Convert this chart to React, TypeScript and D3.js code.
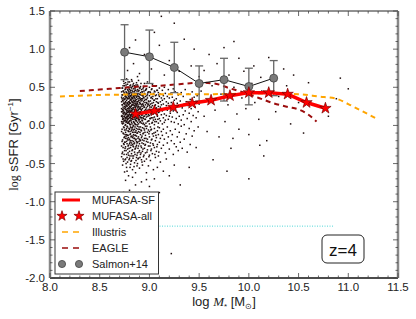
import React from 'react';
import * as d3 from 'd3';

// ---------------- data ----------------
const xTickValues = [8.0, 8.5, 9.0, 9.5, 10.0, 10.5, 11.0, 11.5];
const yTickValues = [-2.0, -1.5, -1.0, -0.5, 0.0, 0.5, 1.0, 1.5];

const mufasaSFMass = [8.86, 9.05, 9.24, 9.43, 9.62, 9.81, 10.0, 10.2, 10.39, 10.58, 10.77];
const mufasaSFssfr = [0.15, 0.19, 0.24, 0.29, 0.33, 0.39, 0.43, 0.43, 0.41, 0.30, 0.225];
const mufasaAllMass = [8.86, 9.05, 9.24, 9.43, 9.62, 9.81, 10.0, 10.2, 10.39, 10.58, 10.77];
const mufasaAllssfr = [0.15, 0.19, 0.24, 0.29, 0.33, 0.39, 0.43, 0.43, 0.41, 0.30, 0.225];

const illustrisMass = [8.1, 8.3, 8.5, 8.8, 9.0, 9.3, 9.6, 9.9, 10.2, 10.5, 10.7, 10.88, 11.0, 11.12, 11.29];
const illustrisssfr = [0.38, 0.39, 0.40, 0.405, 0.41, 0.41, 0.41, 0.415, 0.42, 0.41, 0.38, 0.35, 0.28, 0.2, 0.085];

const eagleMass = [8.3, 8.5, 8.7, 8.9, 9.1, 9.3, 9.5, 9.65, 9.8, 9.95, 10.1, 10.25, 10.4, 10.5, 10.6, 10.68];
const eaglessfr = [0.45, 0.47, 0.49, 0.51, 0.52, 0.54, 0.56, 0.55, 0.49, 0.43, 0.36, 0.29, 0.24, 0.21, 0.14, 0.05];

const salmonMass = [8.75, 9.0, 9.25, 9.5, 9.75, 10.0, 10.25];
const salmonssfr = [0.96, 0.90, 0.76, 0.55, 0.60, 0.51, 0.62];
const salmonErr = [0.36, 0.35, 0.33, 0.23, 0.28, 0.24, 0.23];

const limitMass = [8.8, 10.85];
const limitssfr = [-1.32, -1.32];

// galaxy cloud: columns of [log M*, list of log sSFR]
const cloudColumns: [number, number[]][] = [
  [8.72, [0.31, -0.08, 0.12, 0.44, -0.27, 0.05, 0.22, -0.41, 0.37, 0.18]],
  [8.725, [0.18, -0.21, 0.40, 0.03, 0.27, -0.37, 0.13, 0.49, -0.05, 0.35]],
  [8.73, [0.02, 0.27, -0.19, 0.49, 0.11, -0.35, 0.33, 0.08, -0.52, 0.21, 0.40]],
  [8.735, [0.24, -0.10, 0.45, 0.09, -0.29, 0.32, 0.16, -0.44, 0.05, 0.52, 0.20]],
  [8.74, [0.15, -0.02, 0.36, -0.24, 0.58, 0.09, 0.29, -0.11, 0.45, -0.47, 0.19, 0.03]],
  [8.745, [0.07, 0.34, -0.16, 0.22, -0.38, 0.43, 0.12, -0.03, 0.29, 0.55, -0.25, 0.17]],
  [8.75, [0.25, -0.15, 0.41, 0.06, -0.33, 0.17, 0.52, -0.06, 0.34, -0.61, 0.12, 0.28, -0.22]],
  [8.755, [0.30, 0.00, -0.22, 0.38, 0.10, -0.45, 0.23, 0.47, -0.12, 0.15, 0.35, -0.30, 0.06]],
  [8.76, [0.07, 0.39, -0.28, 0.21, 0.48, -0.09, 0.14, 0.31, -0.44, 0.01, 0.56, 0.24, -0.17, 0.10]],
  [8.765, [0.16, -0.33, 0.28, 0.04, 0.44, -0.14, 0.21, -0.50, 0.37, 0.09, -0.06, 0.53, 0.26]],
  [8.77, [0.33, -0.04, 0.19, -0.38, 0.43, 0.11, 0.26, -0.21, 0.05, 0.61, -0.12, 0.37, 0.16, -0.55]],
  [8.775, [0.11, 0.36, -0.24, 0.19, 0.50, -0.01, 0.30, -0.42, 0.14, 0.41, -0.17, 0.06, 0.25, -0.60]],
  [8.78, [0.22, 0.47, -0.13, 0.08, 0.35, -0.31, 0.17, 0.54, -0.02, 0.29, -0.48, 0.12, 0.40, -0.19, 0.03]],
  [8.785, [0.27, -0.07, 0.42, 0.12, -0.27, 0.35, 0.03, 0.57, -0.36, 0.20, 0.46, -0.13, 0.09]],
  [8.79, [0.13, -0.26, 0.38, 0.04, 0.23, -0.08, 0.50, 0.18, -0.39, 0.31, 0.09, -0.16, 0.44, 0.27, -0.66]],
  [8.795, [0.05, 0.31, -0.19, 0.22, -0.45, 0.40, 0.14, -0.04, 0.49, 0.28, -0.30, 0.17, 0.36]],
  [8.80, [0.30, 0.06, -0.18, 0.42, 0.15, -0.34, 0.25, 0.57, -0.05, 0.20, 0.36, -0.43, 0.10, -0.24, 0.47, 0.02]],
  [8.805, [0.23, -0.12, 0.38, 0.01, -0.40, 0.29, 0.11, 0.52, -0.22, 0.18, 0.44, -0.08, 0.33, -0.55]],
  [8.81, [0.18, -0.11, 0.34, 0.07, 0.46, -0.29, 0.24, -0.02, 0.39, 0.13, -0.51, 0.29, 0.01, -0.20, 0.53, 0.11]],
  [8.815, [0.14, 0.43, -0.26, 0.06, 0.34, -0.15, 0.25, -0.47, 0.50, 0.09, -0.03, 0.20, 0.39]],
  [8.82, [0.09, 0.41, -0.23, 0.19, 0.32, -0.07, 0.49, -0.37, 0.14, 0.26, -0.14, 0.04, 0.60, -0.46, 0.22, 0.36]],
  [8.825, [0.31, -0.05, 0.19, -0.33, 0.46, 0.02, 0.27, -0.20, 0.12, 0.58, -0.40, 0.37]],
  [8.83, [0.27, -0.03, 0.15, 0.44, -0.32, 0.08, 0.35, -0.16, 0.21, 0.51, -0.09, 0.12, -0.58, 0.30, 0.40, -0.25]],
  [8.835, [0.08, 0.36, -0.14, 0.23, -0.43, 0.41, 0.16, -0.01, 0.30, -0.27, 0.53, 0.11]],
  [8.84, [0.05, 0.33, -0.21, 0.17, 0.48, -0.12, 0.28, 0.00, -0.40, 0.38, 0.11, -0.28, 0.23, 0.55, -0.06, 0.16]],
  [8.845, [0.26, -0.24, 0.13, 0.44, -0.09, 0.32, 0.04, -0.54, 0.21, 0.39, -0.17, 0.14]],
  [8.85, [0.20, -0.17, 0.37, 0.10, -0.35, 0.26, 0.45, -0.05, 0.14, -0.49, 0.31, 0.03, 0.52, -0.23, 0.18, 0.40]],
  [8.855, [0.02, 0.29, -0.31, 0.17, 0.48, -0.13, 0.35, 0.08, -0.38, 0.24, 0.42, -0.02]],
  [8.86, [0.12, 0.39, -0.09, 0.24, -0.30, 0.46, 0.07, 0.33, -0.19, 0.17, -0.62, 0.28, 0.01, 0.50, -0.13]],
  [8.865, [0.21, -0.18, 0.40, 0.06, -0.28, 0.31, 0.15, -0.46, 0.53, 0.10, -0.07, 0.26]],
  [8.87, [0.34, -0.14, 0.09, 0.42, -0.26, 0.19, 0.56, -0.04, 0.27, -0.42, 0.13, 0.37, -0.21, 0.06]],
  [8.875, [0.13, 0.38, -0.10, 0.25, -0.39, 0.45, 0.01, 0.29, -0.23, 0.19, -0.53]],
  [8.88, [0.16, -0.22, 0.31, 0.04, 0.47, -0.10, 0.23, -0.36, 0.40, 0.11, -0.01, 0.53, -0.50, 0.29]],
  [8.885, [0.35, -0.05, 0.20, -0.30, 0.09, 0.42, -0.17, 0.27, 0.51, -0.44, 0.14]],
  [8.89, [0.25, 0.02, -0.27, 0.38, 0.14, -0.08, 0.45, -0.43, 0.21, 0.32, -0.15, 0.08, 0.59]],
  [8.895, [0.06, 0.33, -0.21, 0.17, 0.46, -0.35, 0.24, -0.02, 0.38, 0.11]],
  [8.90, [0.08, 0.36, -0.18, 0.22, -0.33, 0.49, 0.13, -0.05, 0.30, -0.56, 0.17, 0.41, -0.24]],
  [8.905, [0.28, -0.09, 0.15, -0.42, 0.36, 0.04, 0.49, -0.19, 0.22]],
  [8.91, [0.29, -0.12, 0.18, 0.43, -0.38, 0.05, 0.34, -0.20, 0.11, 0.51, -0.02, 0.24]],
  [8.915, [0.10, 0.40, -0.27, 0.21, -0.06, 0.32, 0.55, -0.36, 0.16]],
  [8.92, [0.14, 0.40, -0.07, 0.27, -0.29, 0.03, 0.47, -0.45, 0.20, 0.35, -0.16, 0.10]],
  [8.925, [0.33, -0.14, 0.07, 0.44, -0.23, 0.25, 0.13, -0.48]],
  [8.93, [0.22, -0.19, 0.35, 0.06, -0.34, 0.44, 0.15, -0.03, 0.28, -0.52, 0.39]],
  [8.935, [0.17, -0.31, 0.39, 0.02, 0.28, -0.11, 0.48, 0.10]],
  [8.94, [0.03, 0.31, -0.24, 0.17, 0.50, -0.10, 0.26, -0.41, 0.37, 0.09]],
  [8.945, [0.24, -0.04, 0.36, -0.20, 0.12, 0.45, -0.39]],
  [8.95, [0.19, -0.06, 0.42, -0.30, 0.12, 0.33, -0.17, 0.24, 0.55, -0.47, 0.01]],
  [8.955, [0.08, 0.30, -0.26, 0.19, -0.09, 0.41]],
  [8.96, [0.27, -0.13, 0.08, 0.38, -0.36, 0.16, 0.46, -0.01, -0.25, 0.21]],
  [8.965, [0.34, -0.17, 0.14, 0.03, 0.47]],
  [8.97, [0.11, 0.34, -0.21, 0.23, -0.04, 0.48, -0.44, 0.15, 0.30]],
  [8.975, [0.20, -0.35, 0.29, -0.01, 0.39]],
  [8.98, [0.36, -0.09, 0.19, -0.32, 0.05, 0.41, 0.25, -0.18, 0.57]],
  [8.985, [0.12, -0.22, 0.43, 0.27]],
  [8.99, [0.06, 0.28, -0.27, 0.14, 0.44, -0.06, 0.32, -0.53, 0.20]],
  [8.995, [0.31, -0.11, 0.06, -0.41, 0.18]],
  [9.00, [0.21, -0.15, 0.39, 0.02, -0.39, 0.26, 0.50, -0.08, 0.13]],
  [9.005, [0.24, 0.44, -0.27, 0.09]],
  [9.01, [0.32, -0.02, 0.17, -0.23, 0.43, 0.09, -0.46, 0.28]],
  [9.015, [0.15, -0.06, 0.36, -0.33]],
  [9.02, [0.10, 0.37, -0.19, 0.24, -0.05, 0.47, 0.16, -0.31]],
  [9.025, [0.29, 0.03, -0.18, 0.48]],
  [9.03, [0.26, -0.11, 0.04, 0.35, -0.37, 0.19, 0.54]],
  [9.035, [0.10, 0.38, -0.24]],
  [9.04, [0.15, 0.42, -0.26, 0.07, 0.30, -0.14, 0.22, -0.58]],
  [9.045, [0.33, -0.10, 0.21]],
  [9.05, [0.33, -0.04, 0.18, -0.29, 0.45, 0.11, 0.01]],
  [9.055, [0.05, 0.26, -0.38, 0.44]],
  [9.06, [0.08, 0.27, -0.20, 0.39, -0.09, 0.16, -0.42]],
  [9.065, [0.22, -0.13, 0.35]],
  [9.07, [0.23, -0.16, 0.40, 0.05, 0.31, -0.34, 0.52]],
  [9.075, [0.14, 0.46, -0.28]],
  [9.08, [0.12, 0.35, -0.07, 0.20, -0.25, 0.46]],
  [9.085, [0.30, -0.02, 0.08]],
  [9.09, [0.29, -0.12, 0.03, 0.43, -0.40, 0.17, 0.25]],
  [9.095, [0.18, -0.35, 0.40]],
  [9.10, [0.18, 0.38, -0.22, 0.09, -0.03, 0.49]],
  [9.11, [0.06, 0.31, -0.17, 0.24, -0.48, 0.41]],
  [9.12, [0.27, -0.08, 0.14, 0.36, -0.30]],
  [9.13, [0.19, 0.46, -0.13, 0.02, 0.33]],
  [9.14, [0.10, -0.26, 0.28, 0.39, -0.05]],
  [9.15, [0.35, -0.18, 0.15, 0.04, 0.50]],
  [9.16, [0.22, -0.36, 0.07, 0.42]],
  [9.17, [0.13, 0.31, -0.10, 0.26, -0.44]],
  [9.18, [0.38, -0.02, 0.20, -0.23]],
  [9.19, [0.08, 0.29, -0.15, 0.47]],
  [9.20, [0.24, -0.31, 0.12, 0.36]],
  [9.21, [0.16, -0.07, 0.41]],
  [9.22, [0.30, -0.20, 0.05]],
  [9.23, [0.11, 0.37, -0.12]],
  [9.24, [0.26, -0.38, 0.19, 0.48]],
  [9.25, [0.04, 0.33, -0.24]],
  [9.26, [0.21, -0.05, 0.44]],
  [9.27, [0.35, 0.09, -0.28]],
  [9.28, [0.17, -0.15, 0.29]],
  [9.29, [0.40, 0.02, -0.33]],
  [9.30, [0.12, 0.25, -0.09]],
  [9.31, [0.32, -0.22]],
  [9.32, [0.07, 0.43, -0.01]],
  [9.33, [0.23, -0.30]],
  [9.34, [0.38, 0.14]],
  [9.35, [0.01, 0.28, -0.18]],
  [9.36, [0.19, 0.47]],
  [9.37, [0.31, -0.11]],
  [9.38, [0.09, -0.35]],
  [9.39, [0.26, 0.41]],
  [9.40, [0.16, -0.04]],
  [9.41, [0.34, -0.25]],
  [9.42, [0.05, 0.22]],
  [9.43, [0.44, -0.14]],
  [9.44, [0.13, 0.30]],
  [9.45, [-0.07, 0.37]],
  [9.46, [0.24]],
  [9.47, [0.10, -0.29]],
  [9.48, [0.39]],
  [9.49, [0.18, -0.02]],
  [9.50, [0.28]],
];

// isolated galaxies outside the main cloud: [log M*, log sSFR]
const outlierGalaxies: [number, number][] = [
  [8.78, 0.72], [8.84, 0.81], [8.90, 0.68], [8.95, 0.93], [9.02, 0.74], [9.10, 1.05], [9.15, 0.66],
  [9.20, 0.85], [9.05, 1.22], [9.30, 0.71], [9.35, 1.13], [9.42, 0.78], [9.50, 0.64], [9.60, 0.93],
  [9.55, 0.72], [9.68, 0.81], [9.75, 1.02], [9.80, 0.66], [9.90, 0.88], [9.95, 0.71], [10.05, 0.78],
  [10.12, 0.63], [10.20, 0.89], [10.35, 0.74], [10.45, 0.66], [10.60, 0.56], [10.92, 0.62], [11.00, 0.48],
  [8.80, 1.02], [8.86, 1.12], [9.25, 1.34], [9.12, 1.43], [9.45, 1.00], [9.85, 1.10], [8.88, 0.64],
  [9.52, 0.45], [9.55, 0.12], [9.58, -0.08], [9.60, 0.33], [9.63, 0.52], [9.66, 0.20], [9.70, -0.15],
  [9.72, 0.41], [9.76, 0.05], [9.79, 0.27], [9.82, -0.30], [9.85, 0.50], [9.88, 0.15], [9.90, -0.05],
  [9.93, 0.36], [9.97, 0.22], [10.00, -0.12], [10.03, 0.55], [10.06, 0.30], [10.10, 0.08], [10.13, 0.45],
  [10.18, -0.20], [10.22, 0.60], [10.27, 0.18], [10.30, 0.38], [10.38, 0.52], [10.42, 0.02], [10.50, 0.30],
  [10.55, -0.10], [10.70, 0.25], [10.80, 0.12], [10.88, 0.35], [9.64, -0.45], [9.78, -0.60], [10.15, -0.40],
  [10.00, -0.70], [9.84, -0.17], [10.11, -0.26],
  [8.76, -0.72], [8.80, -0.85], [8.83, -0.68], [8.88, -0.95], [8.92, -0.74], [8.97, -0.62], [9.00, -0.80],
  [9.05, -0.70], [9.10, -0.88], [9.14, -0.60], [9.20, -0.66], [9.31, -0.78], [9.25, -0.52], [8.79, -1.05],
  [8.86, -0.78], [9.22, -1.68], [9.40, -0.55], [8.74, -0.88], [8.95, -1.10], [9.08, -0.55], [8.97, -0.71],
];

// ---------------- layout ----------------
const W = 416;
const H = 319;
const PL = 50, PR = 398, PT = 11, PB = 278;

const FONT = "'Liberation Sans', Arial, Helvetica, sans-serif";
const SERIF = "'Liberation Serif', 'DejaVu Serif', serif";

export default function App() {
  const x = d3.scaleLinear().domain([8, 11.5]).range([PL, PR]);
  const y = d3.scaleLinear().domain([-2, 1.5]).range([PB, PT]);

  const line = (xs: number[], ys: number[], curve = d3.curveLinear) =>
    d3.line<number>().x((_, i) => x(xs[i])).y((_, i) => y(ys[i])).curve(curve)(xs.map((_, i) => i)) || '';

  const minorX = d3.range(80, 116).map((v) => v / 10);
  const minorY = d3.range(-20, 16).map((v) => v / 10);

  const star = d3.symbol().type(d3.symbolStar).size(40)() || '';
  const starLegend = d3.symbol().type(d3.symbolStar).size(32)() || '';

  const dots: [number, number][] = [];
  cloudColumns.forEach(([m, ys]) => ys.forEach((s) => dots.push([m, s])));
  outlierGalaxies.forEach((p) => dots.push(p));

  const tickColor = '#444';

  return (
    <svg width={W} height={H} style={{ position: 'absolute', left: 0, top: 0, background: '#fff' }}
      fontFamily={FONT}>
      <rect x={0} y={0} width={W} height={H} fill="#fff" />
      {/* scatter */}
      <g fill="#1e0c0c">
        {dots.map(([m, s], i) => (
          <rect key={i} x={x(m) - 0.75} y={y(s) - 0.75} width={1.5} height={1.5} />
        ))}
      </g>
      {/* detection limit */}
      <path d={line(limitMass, limitssfr)} stroke="#4dd6d6" strokeWidth={1} strokeDasharray="1 1.5" fill="none" />
      {/* Illustris */}
      <path d={line(illustrisMass, illustrisssfr, d3.curveMonotoneX)} stroke="#ffa500" strokeWidth={2}
        strokeDasharray="5 4" fill="none" />
      {/* EAGLE */}
      <path d={line(eagleMass, eaglessfr, d3.curveMonotoneX)} stroke="#9b0d0d" strokeWidth={2}
        strokeDasharray="5 4" fill="none" />
      {/* Salmon+14 */}
      <g stroke="#666" strokeWidth={1.3}>
        {salmonMass.map((m, i) => (
          <g key={i}>
            <line x1={x(m)} x2={x(m)} y1={y(salmonssfr[i] + salmonErr[i])} y2={y(salmonssfr[i] - salmonErr[i])} />
            <line x1={x(m) - 4} x2={x(m) + 4} y1={y(salmonssfr[i] + salmonErr[i])} y2={y(salmonssfr[i] + salmonErr[i])} />
            <line x1={x(m) - 4} x2={x(m) + 4} y1={y(salmonssfr[i] - salmonErr[i])} y2={y(salmonssfr[i] - salmonErr[i])} />
          </g>
        ))}
      </g>
      <path d={line(salmonMass, salmonssfr)} stroke="#111" strokeWidth={1} fill="none" />
      {salmonMass.map((m, i) => (
        <circle key={i} cx={x(m)} cy={y(salmonssfr[i])} r={4} fill="#7a7a7a" stroke="#444" strokeWidth={0.8} />
      ))}
      {/* MUFASA */}
      <path d={line(mufasaSFMass, mufasaSFssfr)} stroke="#ff0000" strokeWidth={3.5} fill="none" strokeLinejoin="round" />
      {mufasaAllMass.map((m, i) => (
        <path key={i} d={star} transform={`translate(${x(m)},${y(mufasaAllssfr[i])})`} fill="#ff0000"
          stroke="#7a0000" strokeWidth={0.7} />
      ))}

      {/* frame */}
      <line x1={PL} x2={PR} y1={PT} y2={PT} stroke="#222" strokeWidth={1} />
      <line x1={PL} x2={PR} y1={PB} y2={PB} stroke="#111" strokeWidth={1.5} />
      <line x1={PL} x2={PL} y1={PT} y2={PB} stroke="#888" strokeWidth={2.5} />
      <line x1={PR} x2={PR} y1={PT} y2={PB} stroke="#888" strokeWidth={2.5} />

      {/* ticks */}
      <g stroke={tickColor} strokeWidth={0.8}>
        {minorX.map((v, i) => {
          const major = Math.abs(v * 2 - Math.round(v * 2)) < 1e-6;
          const L = major ? 5 : 2.5;
          return (
            <g key={i}>
              <line x1={x(v)} x2={x(v)} y1={PB} y2={PB - L} />
              <line x1={x(v)} x2={x(v)} y1={PT} y2={PT + L} />
            </g>
          );
        })}
        {minorY.map((v, i) => {
          const major = Math.abs(v * 2 - Math.round(v * 2)) < 1e-6;
          const L = major ? 5 : 2.5;
          return (
            <g key={i}>
              <line x1={PL} x2={PL + L} y1={y(v)} y2={y(v)} />
              <line x1={PR} x2={PR - L} y1={y(v)} y2={y(v)} />
            </g>
          );
        })}
      </g>

      {/* tick labels */}
      <g fontSize={11.5} fill="#222">
        {xTickValues.map((v) => (
          <text key={v} x={x(v)} y={PB + 13} textAnchor="middle">{d3.format('.1f')(v)}</text>
        ))}
        {yTickValues.map((v) => (
          <text key={v} x={PL - 5} y={y(v) + 4} textAnchor="end">{d3.format('.1f')(v).replace('−', '-')}</text>
        ))}
      </g>

      {/* axis labels */}
      <text x={224} y={306} textAnchor="middle" fontSize={13} fill="#222">
        log <tspan fontFamily={SERIF} fontStyle="italic">M</tspan>
        <tspan fontSize={8} dy={3}>*</tspan>
        <tspan dy={-3}> [M</tspan>
        <tspan fontSize={8} dy={3}>⊙</tspan>
        <tspan dy={-3}>]</tspan>
      </text>
      <text transform={`translate(18,${(PT + PB) / 2}) rotate(-90)`} textAnchor="middle" fontSize={13} fill="#222">
        <tspan fontFamily={SERIF} fontSize={12}>log</tspan> sSFR [Gyr
        <tspan fontSize={8} dy={-5}>−1</tspan>
        <tspan dy={5}>]</tspan>
      </text>

      {/* legend */}
      <rect x={55} y={192} width={103.5} height={82} fill="#fff" stroke="#333" strokeWidth={1} />
      <line x1={62} x2={80} y1={200} y2={200} stroke="#ff0000" strokeWidth={3} />
      <path d={starLegend} transform="translate(62,216)" fill="#ff0000" stroke="#7a0000" strokeWidth={0.7} />
      <path d={starLegend} transform="translate(79,216)" fill="#ff0000" stroke="#7a0000" strokeWidth={0.7} />
      <line x1={62} x2={80} y1={232} y2={232} stroke="#ffa500" strokeWidth={1.5} strokeDasharray="6 5" />
      <line x1={62} x2={80} y1={248} y2={248} stroke="#9b0d0d" strokeWidth={1.5} strokeDasharray="6 5" />
      <circle cx={62} cy={264} r={3.6} fill="#7a7a7a" stroke="#444" strokeWidth={0.8} />
      <circle cx={79} cy={264} r={3.6} fill="#7a7a7a" stroke="#444" strokeWidth={0.8} />
      <g fontSize={11} fill="#222">
        <text x={92} y={204}>MUFASA-SF</text>
        <text x={92} y={220}>MUFASA-all</text>
        <text x={92} y={236}>Illustris</text>
        <text x={92} y={252}>EAGLE</text>
        <text x={92} y={268}>Salmon+14</text>
      </g>

      {/* redshift box */}
      <rect x={322} y={235} width={42} height={28} rx={5} fill="#fff" stroke="#222" strokeWidth={1} />
      <text x={343} y={255.5} textAnchor="middle" fontSize={17} fill="#111">z=4</text>
    </svg>
  );
}
